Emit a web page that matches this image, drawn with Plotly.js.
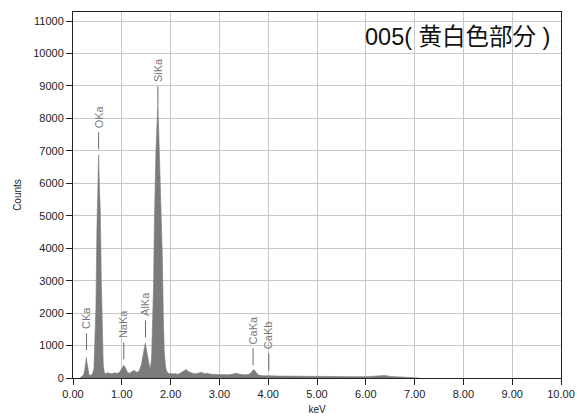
<!DOCTYPE html>
<html>
<head>
<meta charset="utf-8">
<script src="https://cdn.plot.ly/plotly-3.0.1.min.js"></script>
<style>html,body{margin:0;padding:0;background:#fff;}#chart{width:577px;height:419px;}</style>
</head>
<body>
<div id="chart"></div>
<script>
// Spectrum (keV, counts)
var energy = [0.14,0.16,0.18,0.20,0.22,0.24,0.26,0.275,0.29,0.31,0.33,0.35,0.38,
  0.40,0.43,0.45,0.47,0.49,0.51,0.525,0.54,0.56,0.58,0.60,0.62,0.64,
  0.67,0.70,0.75,0.80,0.85,0.90,0.95,1.00,1.04,1.08,1.12,1.16,1.20,1.25,1.30,1.35,
  1.40,1.44,1.48,1.52,1.56,1.58,1.61,1.63,1.65,1.67,1.70,1.74,1.77,1.80,1.83,1.85,1.87,1.90,1.93,
  1.97,2.00,2.05,2.10,2.15,2.20,2.28,2.32,2.36,2.40,2.45,2.50,2.55,2.63,2.70,2.75,2.80,2.90,3.00,3.10,3.20,3.30,3.35,3.40,3.50,3.60,
  3.66,3.70,3.75,3.80,3.90,4.00,4.05,4.20,4.40,4.60,4.80,5.00,5.20,5.50,5.80,6.00,6.20,6.40,6.50,6.70,6.90,7.05,7.10];
var counts = [0,20,40,60,100,250,500,630,450,200,100,80,90,
  120,300,1000,2200,4600,6000,6870,6000,5100,3000,1200,400,180,
  130,160,140,130,160,140,170,300,390,300,160,150,200,240,180,200,
  400,750,1070,750,350,250,600,1500,2800,5000,7000,8470,7000,5000,3800,2000,800,300,180,
  130,150,120,140,110,150,220,260,200,170,150,130,140,180,130,150,120,110,100,110,100,130,150,120,100,110,
  180,265,180,90,70,80,70,60,55,60,50,45,50,45,40,40,50,80,50,35,30,20,0];

// Peak labels
var peakNames  = ["CKa","OKa","NaKa","AlKa","SiKa","CaKa","CaKb"];
var peakEnergy = [0.277,0.525,1.041,1.486,1.740,3.690,4.012];
var markerBase = [850,7050,575,1250,8470,390,235];
var markerLen = 525;

var tickVals = [0,1,2,3,4,5,6,7,8,9,10];
var tickText = ["0.00","1.00","2.00","3.00","4.00","5.00","6.00","7.00","8.00","9.00","10.00"];
var yTicks = [0,1000,2000,3000,4000,5000,6000,7000,8000,9000,10000,11000];
var yTickText = ["0","1000","2000","3000","4000","5000","6000","7000","8000","9000","10000","11000"];

var chartTitle = "005( 黄白色部分 )";

var fontFam = "Liberation Sans, Arial, 'Noto Sans CJK JP', sans-serif";

var shapes = [];
var annotations = [];
for (var i = 0; i < peakNames.length; i++) {
  shapes.push({type:"line", xref:"x", yref:"y", x0:peakEnergy[i], x1:peakEnergy[i],
    y0:markerBase[i], y1:markerBase[i]+markerLen, line:{color:"#6a6a6a", width:1}});
  annotations.push({xref:"x", yref:"y", x:peakEnergy[i], y:markerBase[i]+markerLen,
    text:peakNames[i], showarrow:false, textangle:-90, xanchor:"center", yanchor:"bottom",
    yshift:2, font:{family:fontFam, size:11, color:"#7a7a7a"}});
}
annotations.push({xref:"paper", yref:"paper", x:1, y:0.932, xanchor:"right", yanchor:"middle",
  xshift:-9, text:chartTitle, showarrow:false, font:{family:fontFam, size:23.5, color:"#111"}});

var trace = {x:energy, y:counts, type:"scatter", mode:"lines", fill:"tozeroy",
  line:{color:"#7b7b7b", width:0.6}, fillcolor:"#7b7b7b", hoverinfo:"skip"};

var layout = {
  width:577, height:419,
  margin:{l:73, r:16, t:12, b:41},
  paper_bgcolor:"#fff", plot_bgcolor:"#fff",
  showlegend:false,
  font:{family:fontFam, size:11, color:"#222"},
  xaxis:{range:[0,10], tickvals:tickVals, ticktext:tickText, showgrid:true, gridcolor:"#c8c8c8",
    gridwidth:1, zeroline:false, showline:true, linecolor:"#222", linewidth:1, mirror:true,
    ticks:"outside", ticklen:6, tickcolor:"#222", tickfont:{size:11, color:"#222"},
    title:{text:"keV", font:{size:10, color:"#222"}, standoff:6}},
  yaxis:{range:[0,11280], tickvals:yTicks, ticktext:yTickText, showgrid:true, gridcolor:"#c8c8c8", gridwidth:1,
    zeroline:false, showline:true, linecolor:"#222", linewidth:1, mirror:true,
    ticks:"outside", ticklen:6, tickcolor:"#222", tickfont:{size:11, color:"#222"},
    title:{text:"Counts", font:{size:10, color:"#222"}, standoff:9}},
  shapes:shapes, annotations:annotations
};
Plotly.newPlot("chart", [trace], layout, {displayModeBar:false, staticPlot:true});
</script>
</body>
</html>
